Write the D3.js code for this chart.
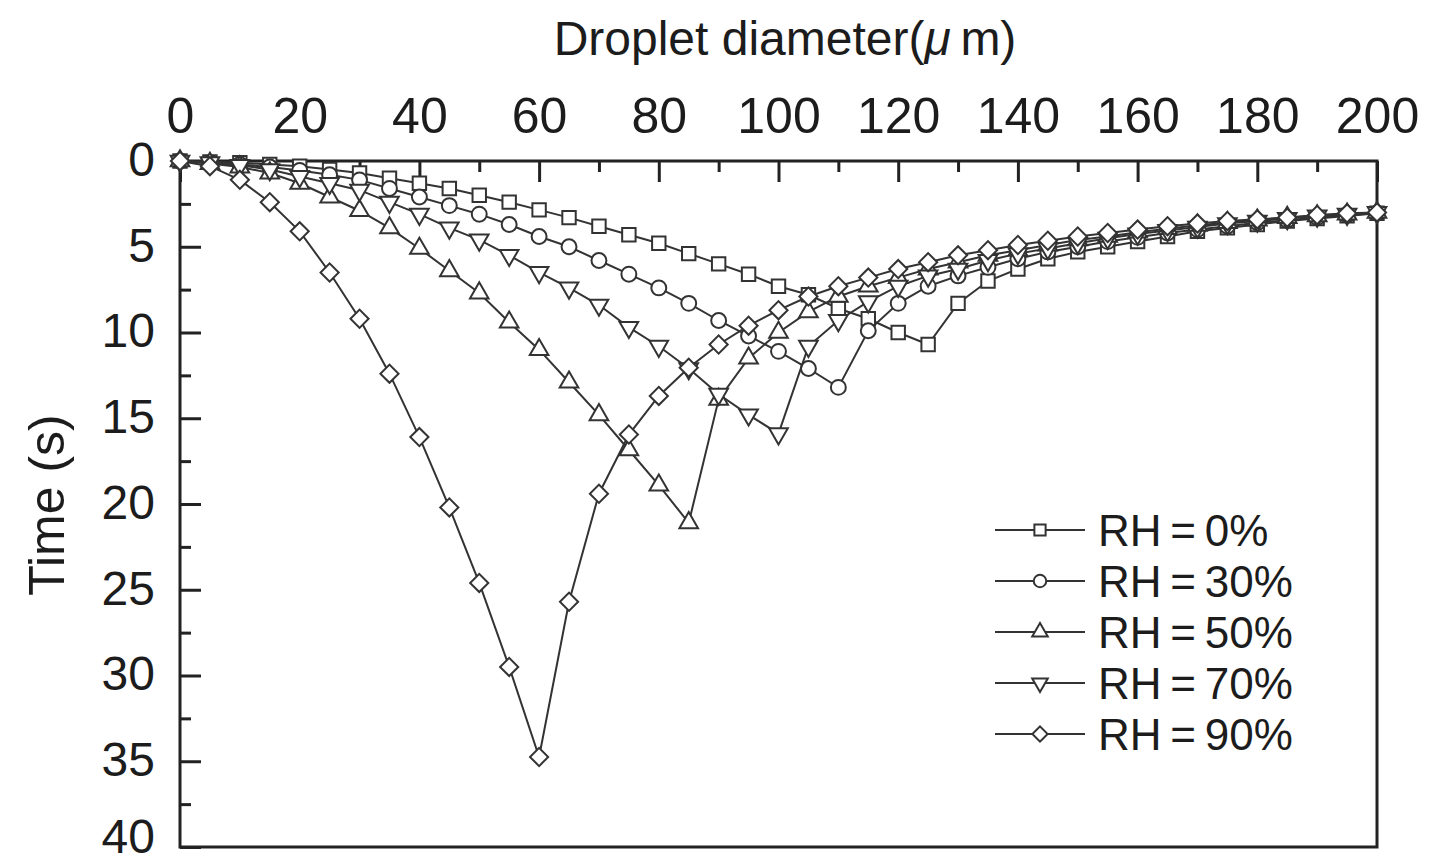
<!DOCTYPE html>
<html>
<head>
<meta charset="utf-8">
<script src="https://cdn.jsdelivr.net/npm/d3@7"></script>
<style>
  html, body { margin: 0; padding: 0; background: #fff; }
  svg { display: block; font-family: "Liberation Sans", Arial, sans-serif; }
</style>
</head>
<body>
<div id="chart"></div>
<script>
const diameters = d3.range(0, 201, 5);

const rh0 = [0, 0.05, 0.1, 0.2, 0.3, 0.5, 0.7, 1.0, 1.3, 1.6, 2.0, 2.4, 2.85, 3.3, 3.8, 4.3, 4.8, 5.4, 6.0, 6.6,
  7.3, 7.8, 8.6, 9.2, 10.0, 10.7, 8.3, 7.0, 6.3, 5.7, 5.3, 5.0, 4.7, 4.4, 4.1, 3.9, 3.7, 3.5, 3.35, 3.2, 3.05];
const rh30 = [0, 0.1, 0.2, 0.35, 0.55, 0.8, 1.1, 1.6, 2.1, 2.6, 3.1, 3.7, 4.4, 5.0, 5.8, 6.6, 7.4, 8.3, 9.3, 10.2,
  11.1, 12.1, 13.2, 9.9, 8.3, 7.3, 6.7, 6.2, 5.7, 5.3, 5.0, 4.7, 4.45, 4.2, 4.0, 3.8, 3.6, 3.45, 3.3, 3.15, 3.05];
const rh50 = [0, 0.15, 0.35, 0.7, 1.3, 2.1, 2.9, 3.9, 5.1, 6.4, 7.7, 9.4, 11.0, 12.9, 14.8, 16.85, 18.9, 21.1, 13.9, 11.5,
  10.0, 8.8, 7.9, 7.3, 6.8, 6.3, 5.9, 5.5, 5.2, 4.9, 4.6, 4.4, 4.15, 3.95, 3.75, 3.6, 3.45, 3.3, 3.2, 3.1, 3.0];
const rh70 = [0, 0.1, 0.25, 0.5, 0.9, 1.3, 1.7, 2.4, 3.1, 3.9, 4.6, 5.5, 6.5, 7.4, 8.4, 9.7, 10.8, 12.1, 13.6, 14.8,
  15.9, 10.8, 9.3, 8.2, 7.3, 6.7, 6.3, 5.8, 5.4, 5.1, 4.8, 4.5, 4.25, 4.05, 3.85, 3.65, 3.5, 3.35, 3.2, 3.1, 3.0];
const rh90 = [0, 0.3, 1.1, 2.4, 4.1, 6.5, 9.2, 12.4, 16.1, 20.2, 24.6, 29.5, 34.75, 25.7, 19.4, 15.95, 13.7, 12.05, 10.7, 9.6,
  8.7, 7.9, 7.3, 6.8, 6.3, 5.9, 5.5, 5.2, 4.9, 4.65, 4.4, 4.2, 4.0, 3.8, 3.65, 3.5, 3.4, 3.3, 3.15, 3.05, 3.0];

const seriesNames = ["RH\u2009=\u20090%", "RH\u2009=\u200930%", "RH\u2009=\u200950%", "RH\u2009=\u200970%", "RH\u2009=\u200990%"];
const seriesValues = [rh0, rh30, rh50, rh70, rh90];
const xMajorTicks = d3.range(0, 201, 20);
const xMinorTicks = d3.range(10, 200, 20);
const yMajorTicks = d3.range(0, 41, 5);
const yMinorTicks = d3.range(2.5, 40, 5);

const width = 1450, height = 865;
const margin = { top: 161, right: 73, bottom: 18, left: 180 };
const ink = "#1c1c1c";
const lineInk = "#333";

const svg = d3.select("#chart").append("svg")
  .attr("width", width)
  .attr("height", height);

const x = d3.scaleLinear().domain([0, 200]).range([margin.left, width - margin.right]);
const y = d3.scaleLinear().domain([0, 40]).range([margin.top, height - margin.bottom]);

// frame
svg.append("rect")
  .attr("x", x(0)).attr("y", y(0))
  .attr("width", x(200) - x(0)).attr("height", y(40) - y(0))
  .attr("fill", "none").attr("stroke", "#222").attr("stroke-width", 3);

// top axis (ticks point inward)
svg.append("g")
  .attr("class", "x-axis")
  .attr("transform", `translate(0,${y(0)})`)
  .call(d3.axisTop(x).tickValues(xMajorTicks).tickSize(-21).tickPadding(28));
svg.append("g")
  .attr("transform", `translate(0,${y(0)})`)
  .call(d3.axisTop(x).tickValues(xMinorTicks).tickSize(-11).tickFormat(""));

// left axis
svg.append("g")
  .attr("class", "y-axis")
  .attr("transform", `translate(${x(0)},0)`)
  .call(d3.axisLeft(y).tickValues(yMajorTicks).tickSize(-21).tickPadding(25));
svg.append("g")
  .attr("transform", `translate(${x(0)},0)`)
  .call(d3.axisLeft(y).tickValues(yMinorTicks).tickSize(-11).tickFormat(""));

svg.selectAll(".domain").remove();
svg.selectAll(".tick line").attr("stroke", "#222").attr("stroke-width", 3);
svg.selectAll(".tick text")
  .attr("fill", ink)
  .attr("font-family", "Liberation Sans, Arial, sans-serif");
svg.selectAll(".x-axis .tick text").attr("font-size", 50);
svg.selectAll(".y-axis .tick text")
  .attr("font-size", 48)
  .attr("dy", d => (d === 40 ? "0.12em" : "0.3em"));

// axis titles
const title = svg.append("text")
  .attr("x", 785).attr("y", 55)
  .attr("text-anchor", "middle")
  .attr("font-size", 48)
  .attr("fill", ink);
title.append("tspan").text("Droplet diameter(");
title.append("tspan").attr("font-style", "italic").text("\u03bc");
title.append("tspan").text("\u2009m)");

svg.append("text")
  .attr("transform", `translate(64,505) rotate(-90)`)
  .attr("text-anchor", "middle")
  .attr("font-size", 50)
  .attr("fill", ink)
  .text("Time (s)");

// marker shapes: square, circle, up triangle, down triangle, diamond (rotated square)
const symbols = [d3.symbolSquare, d3.symbolCircle, d3.symbolTriangle, d3.symbolTriangle, d3.symbolSquare];
const symbolSizes = [180, 175, 150, 150, 165];
const symbolRotate = [0, 0, 0, 180, 45];

const line = d3.line().x(d => x(d[0])).y(d => y(d[1]));

seriesValues.forEach((vals, i) => {
  const pts = diameters.map((d, j) => [d, vals[j]]);
  const g = svg.append("g");
  g.append("path")
    .attr("d", line(pts))
    .attr("fill", "none")
    .attr("stroke", lineInk)
    .attr("stroke-width", 2);
  g.selectAll("path.mark")
    .data(pts)
    .join("path")
    .attr("class", "mark")
    .attr("d", d3.symbol().type(symbols[i]).size(symbolSizes[i]))
    .attr("transform", d => `translate(${x(d[0])},${y(d[1])}) rotate(${symbolRotate[i]})`)
    .attr("fill", "#fff")
    .attr("stroke", lineInk)
    .attr("stroke-width", 2);
});

// legend
const legend = svg.append("g").attr("transform", "translate(995,530)");
seriesNames.forEach((name, i) => {
  const row = legend.append("g").attr("transform", `translate(0,${i * 51})`);
  row.append("line")
    .attr("x1", 0).attr("x2", 90).attr("y1", 0).attr("y2", 0)
    .attr("stroke", lineInk).attr("stroke-width", 2);
  row.append("path")
    .attr("d", d3.symbol().type(symbols[i]).size(symbolSizes[i] * 0.7))
    .attr("transform", `translate(45,0) rotate(${symbolRotate[i]})`)
    .attr("fill", "#fff")
    .attr("stroke", lineInk)
    .attr("stroke-width", 2);
  row.append("text")
    .attr("x", 103).attr("y", 0).attr("dy", "0.36em")
    .attr("font-size", 44)
    .attr("fill", ink)
    .text(name);
});
</script>
</body>
</html>
